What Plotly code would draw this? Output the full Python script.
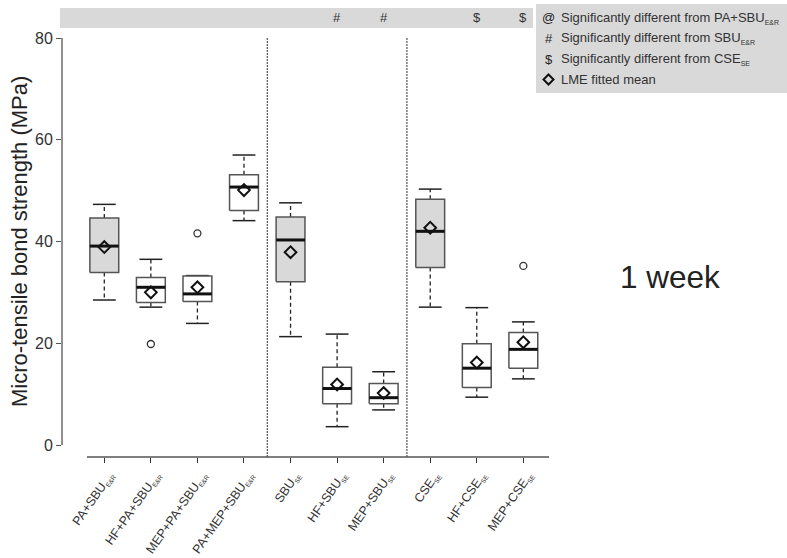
import plotly.graph_objects as go

# ---------------- data ----------------
labels = ["PA+SBU", "HF+PA+SBU", "MEP+PA+SBU", "PA+MEP+SBU",
          "SBU", "HF+SBU", "MEP+SBU",
          "CSE", "HF+CSE", "MEP+CSE"]
subs = ["E&amp;R", "E&amp;R", "E&amp;R", "E&amp;R", "SE", "SE", "SE", "SE", "SE", "SE"]
lower_whisker = [28.5, 27.1, 23.9, 44.1, 21.3, 3.6, 6.9, 27.1, 9.4, 13.0]
q1 = [33.9, 28.0, 28.2, 46.1, 32.1, 8.1, 8.1, 34.9, 11.3, 15.1]
median = [39.1, 31.0, 29.7, 50.7, 40.3, 11.1, 9.3, 42.0, 15.1, 18.8]
q3 = [44.6, 32.9, 33.2, 53.1, 44.8, 15.3, 12.1, 48.3, 19.9, 22.1]
upper_whisker = [47.3, 36.5, 33.3, 57.0, 47.6, 21.8, 14.4, 50.3, 27.0, 24.2]
lme_mean = [38.9, 30.0, 31.0, 50.1, 37.9, 11.9, 10.2, 42.7, 16.2, 20.2]
outlier_x = [2, 3, 10]
outlier_y = [19.85, 41.6, 35.2]
reference_group = [True, False, False, False, True, False, False, True, False, False]
sig_marks = ["", "", "", "", "", "#", "#", "", "$", "$"]
group_breaks = [4.5, 7.5]
yticks = [0, 20, 40, 60, 80]
legend_items = [
    ("@", "Significantly different from PA+SBU<sub><span style='font-size:7px'>E&amp;R</span></sub>"),
    ("#", "Significantly different from SBU<sub><span style='font-size:7px'>E&amp;R</span></sub>"),
    ("$", "Significantly different from CSE<sub><span style='font-size:7px'>SE</span></sub>"),
    ("", "LME fitted mean"),
]

# ---------------- layout geometry ----------------
W, H = 787, 558
L, R, T, B = 62, 550, 38, 457
FONT = "Arial, Liberation Sans, sans-serif"


def px(x):
    return (x - L) / (R - L)


def py(y):
    return (B - y) / (B - T)


n = len(labels)
xs = list(range(1, n + 1))
half_box = 0.31
half_cap = 0.245

fig = go.Figure()

# whiskers (dashed)
wx, wy = [], []
for i in range(n):
    x = xs[i]
    wx += [x, x, None, x, x, None]
    wy += [q3[i], upper_whisker[i], None, q1[i], lower_whisker[i], None]
fig.add_trace(go.Scatter(x=wx, y=wy, mode="lines",
                         line=dict(color="#222", width=1.3, dash="4px,3px"),
                         hoverinfo="skip", showlegend=False))

# caps
cx, cy = [], []
for i in range(n):
    x = xs[i]
    cx += [x - half_cap, x + half_cap, None, x - half_cap, x + half_cap, None]
    cy += [upper_whisker[i], upper_whisker[i], None, lower_whisker[i], lower_whisker[i], None]
fig.add_trace(go.Scatter(x=cx, y=cy, mode="lines",
                         line=dict(color="#222", width=1.5),
                         hoverinfo="skip", showlegend=False))

# boxes
for i in range(n):
    x = xs[i]
    fig.add_trace(go.Scatter(
        x=[x - half_box, x + half_box, x + half_box, x - half_box, x - half_box],
        y=[q1[i], q1[i], q3[i], q3[i], q1[i]],
        mode="lines", fill="toself",
        fillcolor="#d9d9d9" if reference_group[i] else "white",
        line=dict(color="#555", width=1.5),
        hoverinfo="skip", showlegend=False))

# medians
mx, my = [], []
for i in range(n):
    x = xs[i]
    mx += [x - half_box, x + half_box, None]
    my += [median[i], median[i], None]
fig.add_trace(go.Scatter(x=mx, y=my, mode="lines",
                         line=dict(color="#111", width=3),
                         hoverinfo="skip", showlegend=False))

# outliers
fig.add_trace(go.Scatter(x=outlier_x, y=outlier_y, mode="markers",
                         marker=dict(symbol="circle-open", size=7, color="#333",
                                     line=dict(width=1.3)),
                         hoverinfo="skip", showlegend=False))

# LME fitted means
fig.add_trace(go.Scatter(x=xs, y=lme_mean, mode="markers",
                         marker=dict(symbol="diamond-open", size=9, color="#111",
                                     line=dict(width=2)),
                         hoverinfo="skip", showlegend=False))

shapes = []
# group separators
for b in group_breaks:
    shapes.append(dict(type="line", xref="x", yref="paper", x0=b, x1=b, y0=0, y1=1,
                       line=dict(color="#333", width=1, dash="2px,1px")))
# axis lines
shapes.append(dict(type="line", xref="paper", yref="paper", x0=0, x1=0,
                   y0=py(445), y1=1, line=dict(color="#555", width=1.3)))
shapes.append(dict(type="line", xref="paper", yref="paper", x0=px(87), x1=px(549),
                   y0=0, y1=0, line=dict(color="#555", width=1.3)))
# top strip
shapes.append(dict(type="rect", xref="paper", yref="paper", x0=px(60), x1=px(533),
                   y0=py(28), y1=py(8), fillcolor="#d9d9d9", line=dict(width=0), layer="below"))
# legend box
shapes.append(dict(type="rect", xref="paper", yref="paper", x0=px(536), x1=px(787),
                   y0=py(93), y1=py(4), fillcolor="#d9d9d9", line=dict(width=0), layer="below"))

annotations = []
# significance marks in strip
for i in range(n):
    if sig_marks[i]:
        annotations.append(dict(x=xs[i], y=py(18), xref="x", yref="paper",
                                xanchor="center", yanchor="middle",
                                text=sig_marks[i], showarrow=False,
                                font=dict(size=13, color="#333", family=FONT)))
# legend entries
row_y = [18, 38.5, 59, 79.5]
for (sym, txt), ry in zip(legend_items, row_y):
    if sym:
        annotations.append(dict(x=px(548.5), y=py(ry), xref="paper", yref="paper",
                                text=sym, showarrow=False, xanchor="center", yanchor="middle",
                                font=dict(size=13, color="#222", family=FONT)))
    annotations.append(dict(x=px(559), y=py(ry), xref="paper", yref="paper",
                            text=txt, showarrow=False, xanchor="left", yanchor="middle",
                            font=dict(size=13, color="#333", family=FONT)))
# legend diamond
dcx, dcy, r = px(548.5), py(79.5), 5.0
shapes.append(dict(type="path", xref="paper", yref="paper",
                   path=(f"M {dcx} {py(79.5 - r)} L {px(548.5 + r)} {dcy} "
                         f"L {dcx} {py(79.5 + r)} L {px(548.5 - r)} {dcy} Z"),
                   line=dict(color="#111", width=2)))

# y-axis title
annotations.append(dict(x=px(19), y=py(242), xref="paper", yref="paper",
                        xanchor="center", yanchor="middle",
                        text="Micro-tensile bond strength (MPa)", textangle=-90,
                        showarrow=False, font=dict(size=22, color="#222", family=FONT)))
# 1 week label
annotations.append(dict(x=px(670), y=py(277), xref="paper", yref="paper",
                        xanchor="center", yanchor="middle",
                        text="1 week", showarrow=False,
                        font=dict(size=31.5, color="#222", family=FONT)))

ticktext = [f"{lab}<sub><span style='font-size:6.5px'>{s}</span></sub>" for lab, s in zip(labels, subs)]

x_lo = 1 - (104.3 - L) / 46.56
x_hi = x_lo + (R - L) / 46.56
y_lo = -(B - 445) / ((445 - T) / 80)

fig.update_layout(
    width=W, height=H,
    margin=dict(l=L, r=W - R, t=T, b=H - B, autoexpand=False),
    paper_bgcolor="white", plot_bgcolor="white",
    font=dict(family=FONT, color="#333"),
    xaxis=dict(range=[x_lo, x_hi], tickvals=xs, ticktext=ticktext, tickangle=-55,
               showgrid=False, zeroline=False, showline=False, automargin=False,
               ticks="outside", ticklen=5, tickcolor="#333", tickwidth=1.3,
               ticklabelshift=5,
               tickfont=dict(size=12.5, color="#333", family=FONT)),
    yaxis=dict(range=[y_lo, 80], tickvals=yticks, showgrid=False, zeroline=False,
               showline=False, automargin=False, ticks="outside", ticklen=5,
               tickcolor="#555", tickwidth=1.3,
               tickfont=dict(size=16, color="#333", family=FONT)),
    shapes=shapes, annotations=annotations, showlegend=False,
)

fig.write_html("out.html")
